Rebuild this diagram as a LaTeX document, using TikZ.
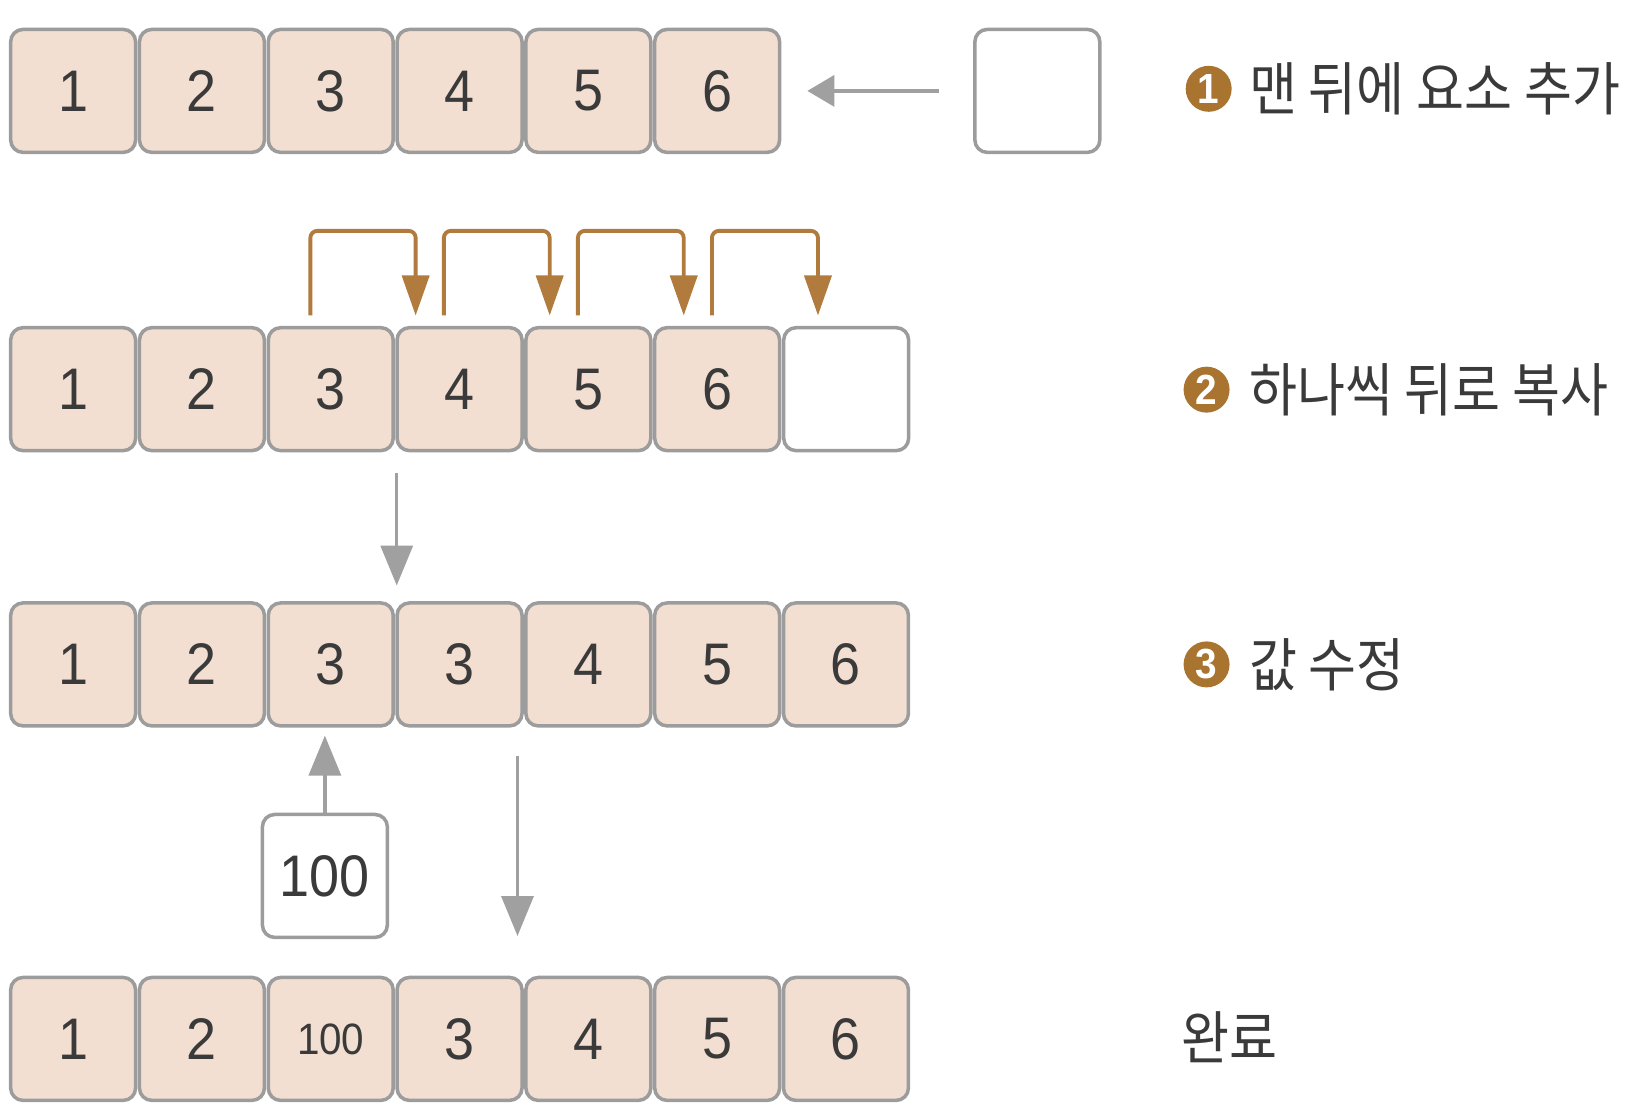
\documentclass[tikz,border=0pt]{standalone}
\usepackage{fontspec}
\setmainfont[FakeStretch=0.92]{Liberation Sans}
\newfontfamily\kr[FakeStretch=0.9]{Noto Sans CJK KR}
\usetikzlibrary{arrows.meta}
\definecolor{cellfill}{HTML}{F2DFD1}
\definecolor{celldraw}{HTML}{9C9C9C}
\definecolor{copybrown}{HTML}{B07B3C}
\definecolor{badgebrown}{HTML}{A8742F}
\definecolor{arrowgray}{HTML}{A0A0A0}
\definecolor{textgray}{HTML}{3A3A3A}
\newcommand\smallnum[1]{{\fontsize{12.5}{14}\selectfont #1}}
\tikzset{
  cell/.style={draw=celldraw, line width=1pt, fill=cellfill, rounded corners=3.5pt,
    minimum width=1.25cm, minimum height=1.23cm, inner sep=0pt,
    font=\fontsize{16.7}{20}\selectfont, text=textgray},
  emptycell/.style={cell, fill=white},
  grayarrow/.style={draw=arrowgray, line width=1pt, -{Triangle[length=0.40cm, width=0.32cm]}},
  shortgray/.style={grayarrow, -{Triangle[length=0.27cm, width=0.31cm]}},
  copyarrow/.style={draw=copybrown, line width=1.1pt, rounded corners=2pt,
    -{Triangle[length=0.40cm, width=0.27cm]}},
  badge/.style={circle, fill=badgebrown, text=white, minimum size=0.46cm, inner sep=0pt,
    font=\bfseries\fontsize{12}{13}\selectfont},
  steplabel/.style={anchor=west, inner sep=0pt, text=textgray, font=\kr\fontsize{16.5}{20}\selectfont},
}
\begin{document}
\begin{tikzpicture}[x=0.010446cm, y=0.010446cm]
  \useasboundingbox (0,0) rectangle (1568,-1066);

  \foreach \v [count=\i] in {1,...,6}
    \node[cell] (r1c\i) at ({70+123.3*(\i-1)}, -87) {\v};
  \node[emptycell] (new) at (993,-87) {};
  \draw[shortgray, shorten <=0.34cm, shorten >=0.26cm] (new) -- (r1c6);
  \node[badge] (b1) at (1157,-85) {1};
  \node[steplabel] (t1) at (1195,-85) {맨 뒤에 요소 추가};

  \foreach \v [count=\i] in {1,...,6}
    \node[cell] (r2c\i) at ({70+123.3*(\i-1)}, -372.5) {\v};
  \node[emptycell] (r2c7) at (810,-372.5) {};
  \foreach \i/\j/\a/\b in {3/4/-19.5/-42, 4/5/-15/-37, 5/6/-10/-32, 6/7/-5/-27}
    \draw[copyarrow] ([shift={(\a,10)}]r2c\i.north) -- ++(0,81)
      -| ([shift={(\b,10)}]r2c\j.north);
  \node[badge] (b2) at (1155,-373) {2};
  \node[steplabel] (t2) at (1195,-373) {하나씩 뒤로 복사};

  \foreach \v [count=\i] in {1,2,3,3,4,5,6}
    \node[cell] (r3c\i) at ({70+123.3*(\i-1)}, -636) {\v};
  \draw[grayarrow] ([shift={(1.7,-20)}]r2c3.south east) -- ([shift={(1.7,15)}]r3c3.north east);
  \node[badge] (b3) at (1155,-636) {3};
  \node[steplabel] (t3) at (1195,-636) {값 수정};

  \node[emptycell] (val) at (311,-838.5) {100};
  \draw[grayarrow, shorten >=0.08cm] (val.north) -- (val.north |- r3c3.south);

  \foreach \v [count=\i] in {1,2,{\smallnum{100}},3,4,5,6}
    \node[cell] (r4c\i) at ({70+123.3*(\i-1)}, -994.5) {\v};
  \draw[grayarrow] ([shift={(-6,-27)}]r3c4.south east) -- ([shift={(-6,38)}]r4c4.north east);
  \node[steplabel] (t4) at (1130,-993) {완료};
\end{tikzpicture}
\end{document}
